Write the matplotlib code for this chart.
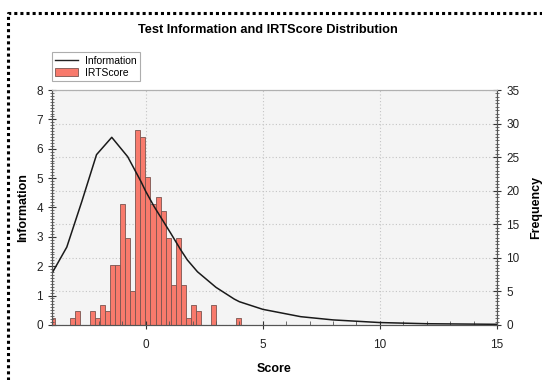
import numpy as np
import matplotlib
matplotlib.use("Agg")
import matplotlib.pyplot as plt
from matplotlib.lines import Line2D
from matplotlib.patches import Patch
from matplotlib.ticker import MultipleLocator

plt.rcParams['font.family'] = ['Liberation Sans Narrow', 'Liberation Sans', 'DejaVu Sans']

# test information curve
info_score = [-4.0, -3.37, -2.73, -2.1, -1.45, -0.77, -0.2, 0.0, 0.36, 1.07, 1.5, 1.78,
              2.21, 3.0, 3.78, 4.0, 5.0, 6.62, 8.0, 10.0, 12.0, 15.0]
info_value = [1.76, 2.65, 4.2, 5.8, 6.39, 5.73, 4.88, 4.55, 4.03, 3.12, 2.55, 2.21,
              1.81, 1.28, 0.88, 0.79, 0.53, 0.28, 0.17, 0.08, 0.04, 0.02]

# IRTScore histogram (bin index -> count)
bin_start = -4.08
bin_width = 0.2142
bin_idx = [0, 4, 5, 8, 9, 10, 11, 12, 13, 14, 15, 16, 17, 18, 19, 20, 21, 22,
           23, 24, 25, 26, 27, 28, 29, 32, 37, 89]
freq = [1, 1, 2, 2, 1, 3, 2, 9, 9, 18, 13, 5, 29, 28, 22, 18, 19, 17,
        13, 6, 13, 6, 1, 3, 2, 3, 1, 1]

fig = plt.figure(figsize=(5.42, 3.80), dpi=100)
ax = fig.add_axes([0.096, 0.145, 0.821, 0.618])
ax2 = ax.twinx()

ax.set_zorder(ax2.get_zorder() + 1)
ax.patch.set_visible(False)
ax2.patch.set_visible(True)
ax2.set_facecolor('#f4f4f4')

lefts = bin_start + bin_width * np.array(bin_idx)
ax2.bar(lefts, freq, width=bin_width, align='edge', color='#f87a6c',
        edgecolor='#7a5550', linewidth=0.6, zorder=2)
ax2.set_ylim(0, 35)
ax2.yaxis.set_major_locator(MultipleLocator(5))
ax2.yaxis.set_minor_locator(MultipleLocator(0.5))
ax2.set_axisbelow(True)
ax2.yaxis.grid(True, which='major', linestyle=(0, (1, 2)), color='#c4c4c4', linewidth=0.8)

ax.plot(info_score, info_value, color='#1a1a1a', linewidth=1.1)
ax.set_xlim(-4, 15)
ax.set_ylim(0, 8)
ax.xaxis.set_major_locator(MultipleLocator(5))
ax.xaxis.set_minor_locator(MultipleLocator(1))
ax.yaxis.set_major_locator(MultipleLocator(1))
ax.yaxis.set_minor_locator(MultipleLocator(0.1))

for xt in ax.get_xticks():
    if -4 < xt < 15:
        ax2.axvline(xt, linestyle=(0, (1, 2)), color='#c4c4c4', linewidth=0.8, zorder=0)

for a in (ax, ax2):
    a.tick_params(which='major', direction='inout', length=6, width=0.8,
                  labelsize=8.5, colors='#333333', labelcolor='#222222')
    a.tick_params(which='minor', direction='inout', length=3, width=0.6, colors='#555555')
    for s in a.spines.values():
        s.set_color('#555555')
        s.set_linewidth(0.8)
    a.spines['top'].set_color('#b0b0b0')
ax.tick_params(axis='x', which='minor', direction='in', length=3)
ax.tick_params(axis='x', which='major', pad=7)

ax.set_xlabel('Score', fontsize=9, fontweight='bold', labelpad=9)
ax.set_ylabel('Information', fontsize=9, fontweight='bold', labelpad=5)
ax2.set_ylabel('Frequency', fontsize=9, fontweight='bold', labelpad=8)

fig.text(0.495, 0.921, 'Test Information and IRTScore Distribution',
         ha='center', va='center', fontsize=9.2, fontweight='bold')

handles = [Line2D([], [], color='#222222', linewidth=1.0),
           Patch(facecolor='#f87a6c', edgecolor='#7a5550', linewidth=0.6)]
leg = fig.legend(handles, ['Information', 'IRTScore'], loc='upper left',
                 bbox_to_anchor=(0.086, 0.877), fontsize=7.5, frameon=True,
                 fancybox=False, handlelength=2.2, handleheight=0.8,
                 borderpad=0.35, labelspacing=0.2, handletextpad=0.6)
leg.get_frame().set_edgecolor('#999999')
leg.get_frame().set_linewidth(0.8)

# dotted outer border
border = Line2D([0.015, 0.015, 1.0], [0.0, 0.966, 0.966], transform=fig.transFigure,
                color='black', linewidth=2.2, linestyle=(0, (1, 1)))
fig.add_artist(border)

fig.savefig('out.png', dpi=100)
